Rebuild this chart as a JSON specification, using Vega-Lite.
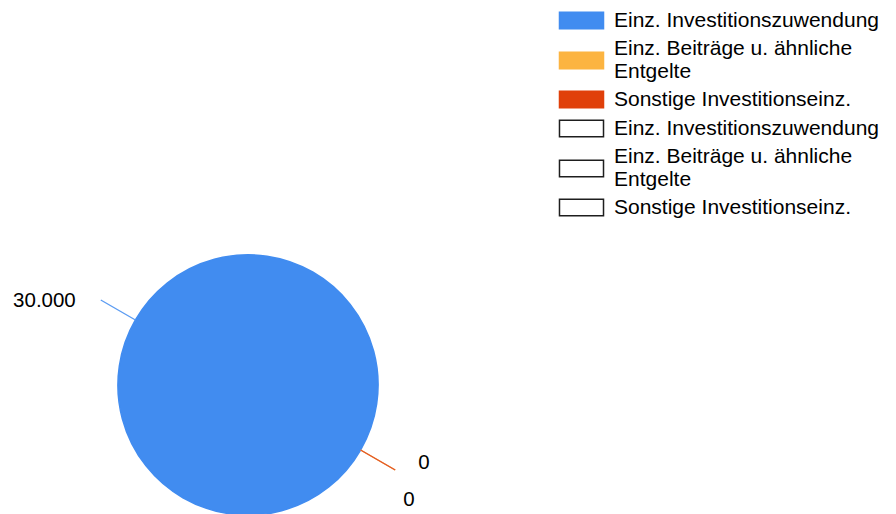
{
  "$schema": "https://vega.github.io/schema/vega-lite/v6.json",
  "width": 260,
  "height": 260,
  "autosize": {"type": "none"},
  "padding": {"left": 118, "top": 255, "right": 518, "bottom": 0},
  "config": {
    "view": {"stroke": null},
    "font": "Liberation Sans",
    "locale": {"number": {"decimal": ",", "thousands": ".", "grouping": [3], "currency": ["", " €"]}}
  },
  "data": {
    "values": [
      {"key": "Einz. Investitionszuwendung", "reihe": 1, "wert": 30000},
      {"key": "Einz. Beiträge u. ähnliche Entgelte", "reihe": 1, "wert": 0},
      {"key": "Sonstige Investitionseinz.", "reihe": 1, "wert": 0},
      {"key": "Einz. Investitionszuwendung (2)", "reihe": 2, "wert": null},
      {"key": "Einz. Beiträge u. ähnliche Entgelte (2)", "reihe": 2, "wert": null},
      {"key": "Sonstige Investitionseinz. (2)", "reihe": 2, "wert": null}
    ]
  },
  "layer": [
    {
      "transform": [{"filter": "datum.wert > 0"}],
      "mark": {"type": "arc", "strokeWidth": 1.5},
      "encoding": {
        "theta": {"field": "wert", "type": "quantitative", "stack": true, "scale": {"range": [2.0944, 8.3776]}},
        "color": {
          "field": "key", "type": "nominal",
          "scale": {
            "domain": ["Einz. Investitionszuwendung", "Einz. Beiträge u. ähnliche Entgelte", "Sonstige Investitionseinz.", "Einz. Investitionszuwendung (2)", "Einz. Beiträge u. ähnliche Entgelte (2)", "Sonstige Investitionseinz. (2)"],
            "range": ["#418CF0", "#FCB441", "#E0400A", "#ffffff", "#ffffff", "#ffffff"]
          },
          "legend": {
            "title": null,
            "orient": "none",
            "legendX": 453,
            "legendY": -245,
            "padding": 0,
            "symbolType": "M-2.5,-0.95H2.5V0.95H-2.5Z",
            "symbolSize": 310,
            "symbolStrokeWidth": 1.5,
            "symbolOffset": 0,
            "labelFont": "Liberation Sans",
            "labelFontSize": 21,
            "labelColor": "#000000",
            "labelOffset": 22,
            "labelLimit": 400,
            "rowPadding": 6,
            "labelExpr": "indexof(datum.label, 'Beiträge') >= 0 ? ['Einz. Beiträge u. ähnliche', 'Entgelte'] : replace(datum.label, ' (2)', '')",
            "encode": {
              "labels": {"update": {
                "dy": {"signal": "indexof(datum.value, 'Beiträge') >= 0 ? -11.5 : 0"},
                "lineHeight": {"value": 23}
              }}
            }
          }
        },
        "stroke": {
          "field": "key", "type": "nominal",
          "scale": {
            "domain": ["Einz. Investitionszuwendung", "Einz. Beiträge u. ähnliche Entgelte", "Sonstige Investitionseinz.", "Einz. Investitionszuwendung (2)", "Einz. Beiträge u. ähnliche Entgelte (2)", "Sonstige Investitionseinz. (2)"],
            "range": ["#418CF0", "#FCB441", "#E0400A", "#1e1e1e", "#1e1e1e", "#1e1e1e"]
          }
        }
      }
    },
    {
      "transform": [{"filter": "datum.reihe == 1"}],
      "mark": {"type": "arc", "radius": 170, "radius2": 130, "strokeWidth": 1.4, "fillOpacity": 0},
      "encoding": {
        "theta": {"field": "wert", "type": "quantitative", "stack": null, "scale": {"domain": [0, 60000], "range": [2.0944, 8.3776]}},
        "theta2": {"field": "wert"},
        "stroke": {
          "condition": [
            {"test": "datum.key == 'Einz. Investitionszuwendung'", "value": "#5C9CF2"},
            {"test": "datum.key == 'Einz. Beiträge u. ähnliche Entgelte'", "value": "#FCB441"}
          ],
          "value": "#E2582A"
        }
      }
    },
    {
      "transform": [{"filter": "datum.key == 'Einz. Investitionszuwendung'"}],
      "mark": {"type": "text", "radius": 170, "align": "right", "baseline": "middle", "dx": -25, "dy": 1, "fontSize": 20.5, "color": "#000000"},
      "encoding": {
        "theta": {"field": "wert", "type": "quantitative", "stack": null, "scale": {"domain": [0, 60000], "range": [2.0944, 8.3776]}},
        "text": {"field": "wert", "type": "quantitative", "format": ",.0f"}
      }
    },
    {
      "transform": [{"filter": "datum.key == 'Sonstige Investitionseinz.'"}],
      "mark": {"type": "text", "radius": 170, "align": "left", "baseline": "middle", "dx": 23, "dy": -7, "fontSize": 20.5, "color": "#000000"},
      "encoding": {
        "theta": {"field": "wert", "type": "quantitative", "stack": null, "scale": {"domain": [0, 60000], "range": [2.0944, 8.3776]}},
        "text": {"field": "wert", "type": "quantitative", "format": ",.0f"}
      }
    },
    {
      "transform": [{"filter": "datum.key == 'Einz. Beiträge u. ähnliche Entgelte'"}],
      "mark": {"type": "text", "radius": 170, "align": "left", "baseline": "middle", "dx": 8, "dy": 30, "fontSize": 20.5, "color": "#000000"},
      "encoding": {
        "theta": {"field": "wert", "type": "quantitative", "stack": null, "scale": {"domain": [0, 60000], "range": [2.0944, 8.3776]}},
        "text": {"field": "wert", "type": "quantitative", "format": ",.0f"}
      }
    }
  ],
  "resolve": {"scale": {"theta": "independent"}}
}
